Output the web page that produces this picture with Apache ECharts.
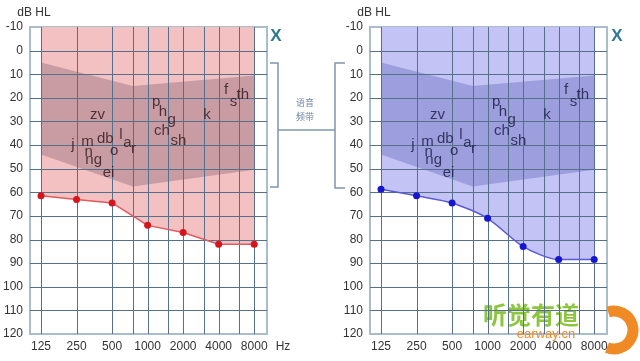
<!DOCTYPE html>
<html><head><meta charset="utf-8">
<script src="https://cdn.jsdelivr.net/npm/echarts@6/dist/echarts.min.js"></script>
<style>html,body{margin:0;padding:0;background:#fff}#c{width:640px;height:361px}</style>
</head><body><div id="c"></div>
<script>
// ---- data ----
const freqs = [125, 250, 500, 1000, 2000, 4000, 8000];
const gridFreqs = [125, 250, 500, 750, 1000, 1500, 2000, 3000, 4000, 6000, 8000];
const dbLines = [0, 10, 20, 30, 40, 50, 60, 70, 80, 90, 100, 110];
const leftThresholds = [61.5, 63, 64.5, 74, 77, 82, 82];
const rightThresholds = [58.7, 61.5, 64.5, 71, 83, 88.5, 88.5];
const bananaFreqs = [125, 750, 8000];
const bananaTop = [5, 15, 10.5];
const bananaBottom = [44, 57.5, 50.5];
const phonemes = ['zv','j','m','n','ng','db','o','l','a','r','ei','p','h','g','ch','sh','k','f','s','th'];
const phonemeFreq = [376, 233, 310, 317, 349, 438, 521, 595, 674, 758, 467, 1181, 1347, 1602, 1320, 1828, 3182, 4628, 5351, 6408];
const phonemeDb = [27.3, 40.0, 38.8, 42.8, 46.3, 37.4, 42.4, 35.7, 39.0, 41.7, 51.7, 21.6, 25.9, 29.4, 33.9, 38.1, 27.3, 16.7, 21.6, 18.8];

const oct = f => Math.log2(f / 125);
const XMIN = -0.31, XMAX = 6.36, YMIN = -10, YMAX = 120;

const themes = [
  {fill: '#f4c1c3', banana: '#c99ca4', line: '#e05a5e', dot: '#d6141c', text: '#2e141c', th: leftThresholds},
  {fill: '#c3c3f5', banana: '#9d9edd', line: '#5a5ad6', dot: '#1616d0', text: '#181844', th: rightThresholds}
];
const gridLineColor = '#56708c';

const chart = echarts.init(document.getElementById('c'));
const grids = [
  {left: 30, top: 27, width: 237, height: 307},
  {left: 370, top: 27, width: 237, height: 307}
];
const xAxes = [], yAxes = [], series = [];
grids.forEach((g, i) => {
  g.show = true; g.borderColor = '#a9bdcd'; g.borderWidth = 2; g.backgroundColor = 'transparent';
  xAxes.push({
    type: 'value', gridIndex: i, min: XMIN, max: XMAX,
    axisLine: {show: false}, axisTick: {show: false}, splitLine: {show: false},
    axisLabel: {customValues: freqs.map(oct), formatter: v => String(Math.round(125 * Math.pow(2, v))),
      color: '#333', fontSize: 12, margin: 7, fontFamily: 'Liberation Sans, Arial, sans-serif'}
  });
  yAxes.push({
    type: 'value', gridIndex: i, inverse: true, min: YMIN, max: YMAX, interval: 10,
    axisLine: {show: false}, axisTick: {show: false}, splitLine: {show: false},
    axisLabel: {color: '#333', fontSize: 12, margin: 7, fontFamily: 'Liberation Sans, Arial, sans-serif'}
  });
  const t = themes[i];
  const curve = freqs.map((f, k) => [oct(f), t.th[k]]);
  series.push({
    type: 'line', xAxisIndex: i, yAxisIndex: i, data: curve, z: 1, silent: true,
    symbol: 'none', lineStyle: {width: 0}, smooth: i === 1 ? 0.25 : false,
    areaStyle: {origin: 'start', color: t.fill, opacity: 1}
  });
  series.push({
    type: 'custom', xAxisIndex: i, yAxisIndex: i, z: 2, silent: true,
    data: [[0, 0]],
    renderItem: (params, api) => {
      const pts = [];
      bananaFreqs.forEach((f, k) => pts.push(api.coord([oct(f), bananaTop[k]])));
      for (let k = bananaFreqs.length - 1; k >= 0; k--) pts.push(api.coord([oct(bananaFreqs[k]), bananaBottom[k]]));
      return {type: 'polygon', shape: {points: pts}, style: {fill: t.banana}};
    }
  });
  series.push({
    type: 'custom', xAxisIndex: i, yAxisIndex: i, z: 3, silent: true,
    data: gridFreqs.map(f => [oct(f), 0]),
    renderItem: (params, api) => {
      const a = api.coord([api.value(0), YMIN]), b = api.coord([api.value(0), YMAX]);
      return {type: 'line', shape: {x1: Math.round(a[0]) + 0.5, y1: a[1], x2: Math.round(b[0]) + 0.5, y2: b[1]}, style: {stroke: gridLineColor, lineWidth: 1}};
    }
  });
  series.push({
    type: 'custom', xAxisIndex: i, yAxisIndex: i, z: 3, silent: true,
    data: dbLines.map(d => [0, d]),
    renderItem: (params, api) => {
      const a = api.coord([XMIN, api.value(1)]), b = api.coord([XMAX, api.value(1)]);
      return {type: 'line', shape: {x1: a[0], y1: Math.round(a[1]) + 0.5, x2: b[0], y2: Math.round(b[1]) + 0.5}, style: {stroke: gridLineColor, lineWidth: 1}};
    }
  });
  series.push({
    type: 'line', xAxisIndex: i, yAxisIndex: i, data: curve, z: 4, silent: true,
    smooth: i === 1 ? 0.25 : false,
    symbol: 'circle', symbolSize: 7,
    lineStyle: {color: t.line, width: 1.5},
    itemStyle: {color: t.dot}
  });
  series.push({
    type: 'scatter', xAxisIndex: i, yAxisIndex: i, z: 5, silent: true,
    symbolSize: 1, itemStyle: {color: 'transparent'},
    data: phonemes.map((p, k) => ({name: p, value: [oct(phonemeFreq[k]), phonemeDb[k]]})),
    label: {show: true, position: 'inside', formatter: '{b}', color: t.text, fontSize: 15,
      fontFamily: 'Liberation Sans, Arial, sans-serif'}
  });
});

const txt = (x, y, s, style) => ({type: 'text', x, y, style: Object.assign({text: s, fill: '#333', fontSize: 12,
  fontFamily: 'Liberation Sans, Arial, sans-serif', align: 'center', verticalAlign: 'middle'}, style)});
const bracketColor = '#7f96aa';
const pl = pts => ({type: 'polyline', shape: {points: pts}, style: {stroke: bracketColor, lineWidth: 1.5, fill: null}});

chart.setOption({
  animation: false,
  backgroundColor: '#fff',
  grid: grids, xAxis: xAxes, yAxis: yAxes, series,
  graphic: [
    txt(34, 13, 'dB HL'), txt(374, 13, 'dB HL'),
    txt(283, 347, 'Hz'),
    txt(276, 36, 'X', {fill: '#2e7a93', fontSize: 17, fontWeight: 'bold'}),
    txt(617, 36, 'X', {fill: '#2e7a93', fontSize: 17, fontWeight: 'bold'}),
    pl([[270, 63], [278, 63], [278, 187], [270, 187]]),
    pl([[278, 130], [335, 130]]),
    pl([[345, 63], [335, 63], [335, 188], [345, 188]]),
    txt(305, 103, '语音', {fill: '#6f86a0', fontSize: 9, fontFamily: 'Noto Sans CJK SC'}),
    txt(305, 117, '频带', {fill: '#6f86a0', fontSize: 9, fontFamily: 'Noto Sans CJK SC'}),
    {type: 'arc', shape: {cx: 614, cy: 330, r: 19, startAngle: -Math.PI * 0.6, endAngle: Math.PI * 0.62},
      style: {stroke: '#f08a24', lineWidth: 11, fill: null}},
    txt(531, 315, '听觉有道', {fill: '#8cc63f', fontSize: 24, fontWeight: 'bold', fontFamily: 'Noto Sans CJK SC'}),
    txt(546, 334, 'earway.cn', {fill: '#f08a24', fontSize: 13})
  ]
});
</script></body></html>
